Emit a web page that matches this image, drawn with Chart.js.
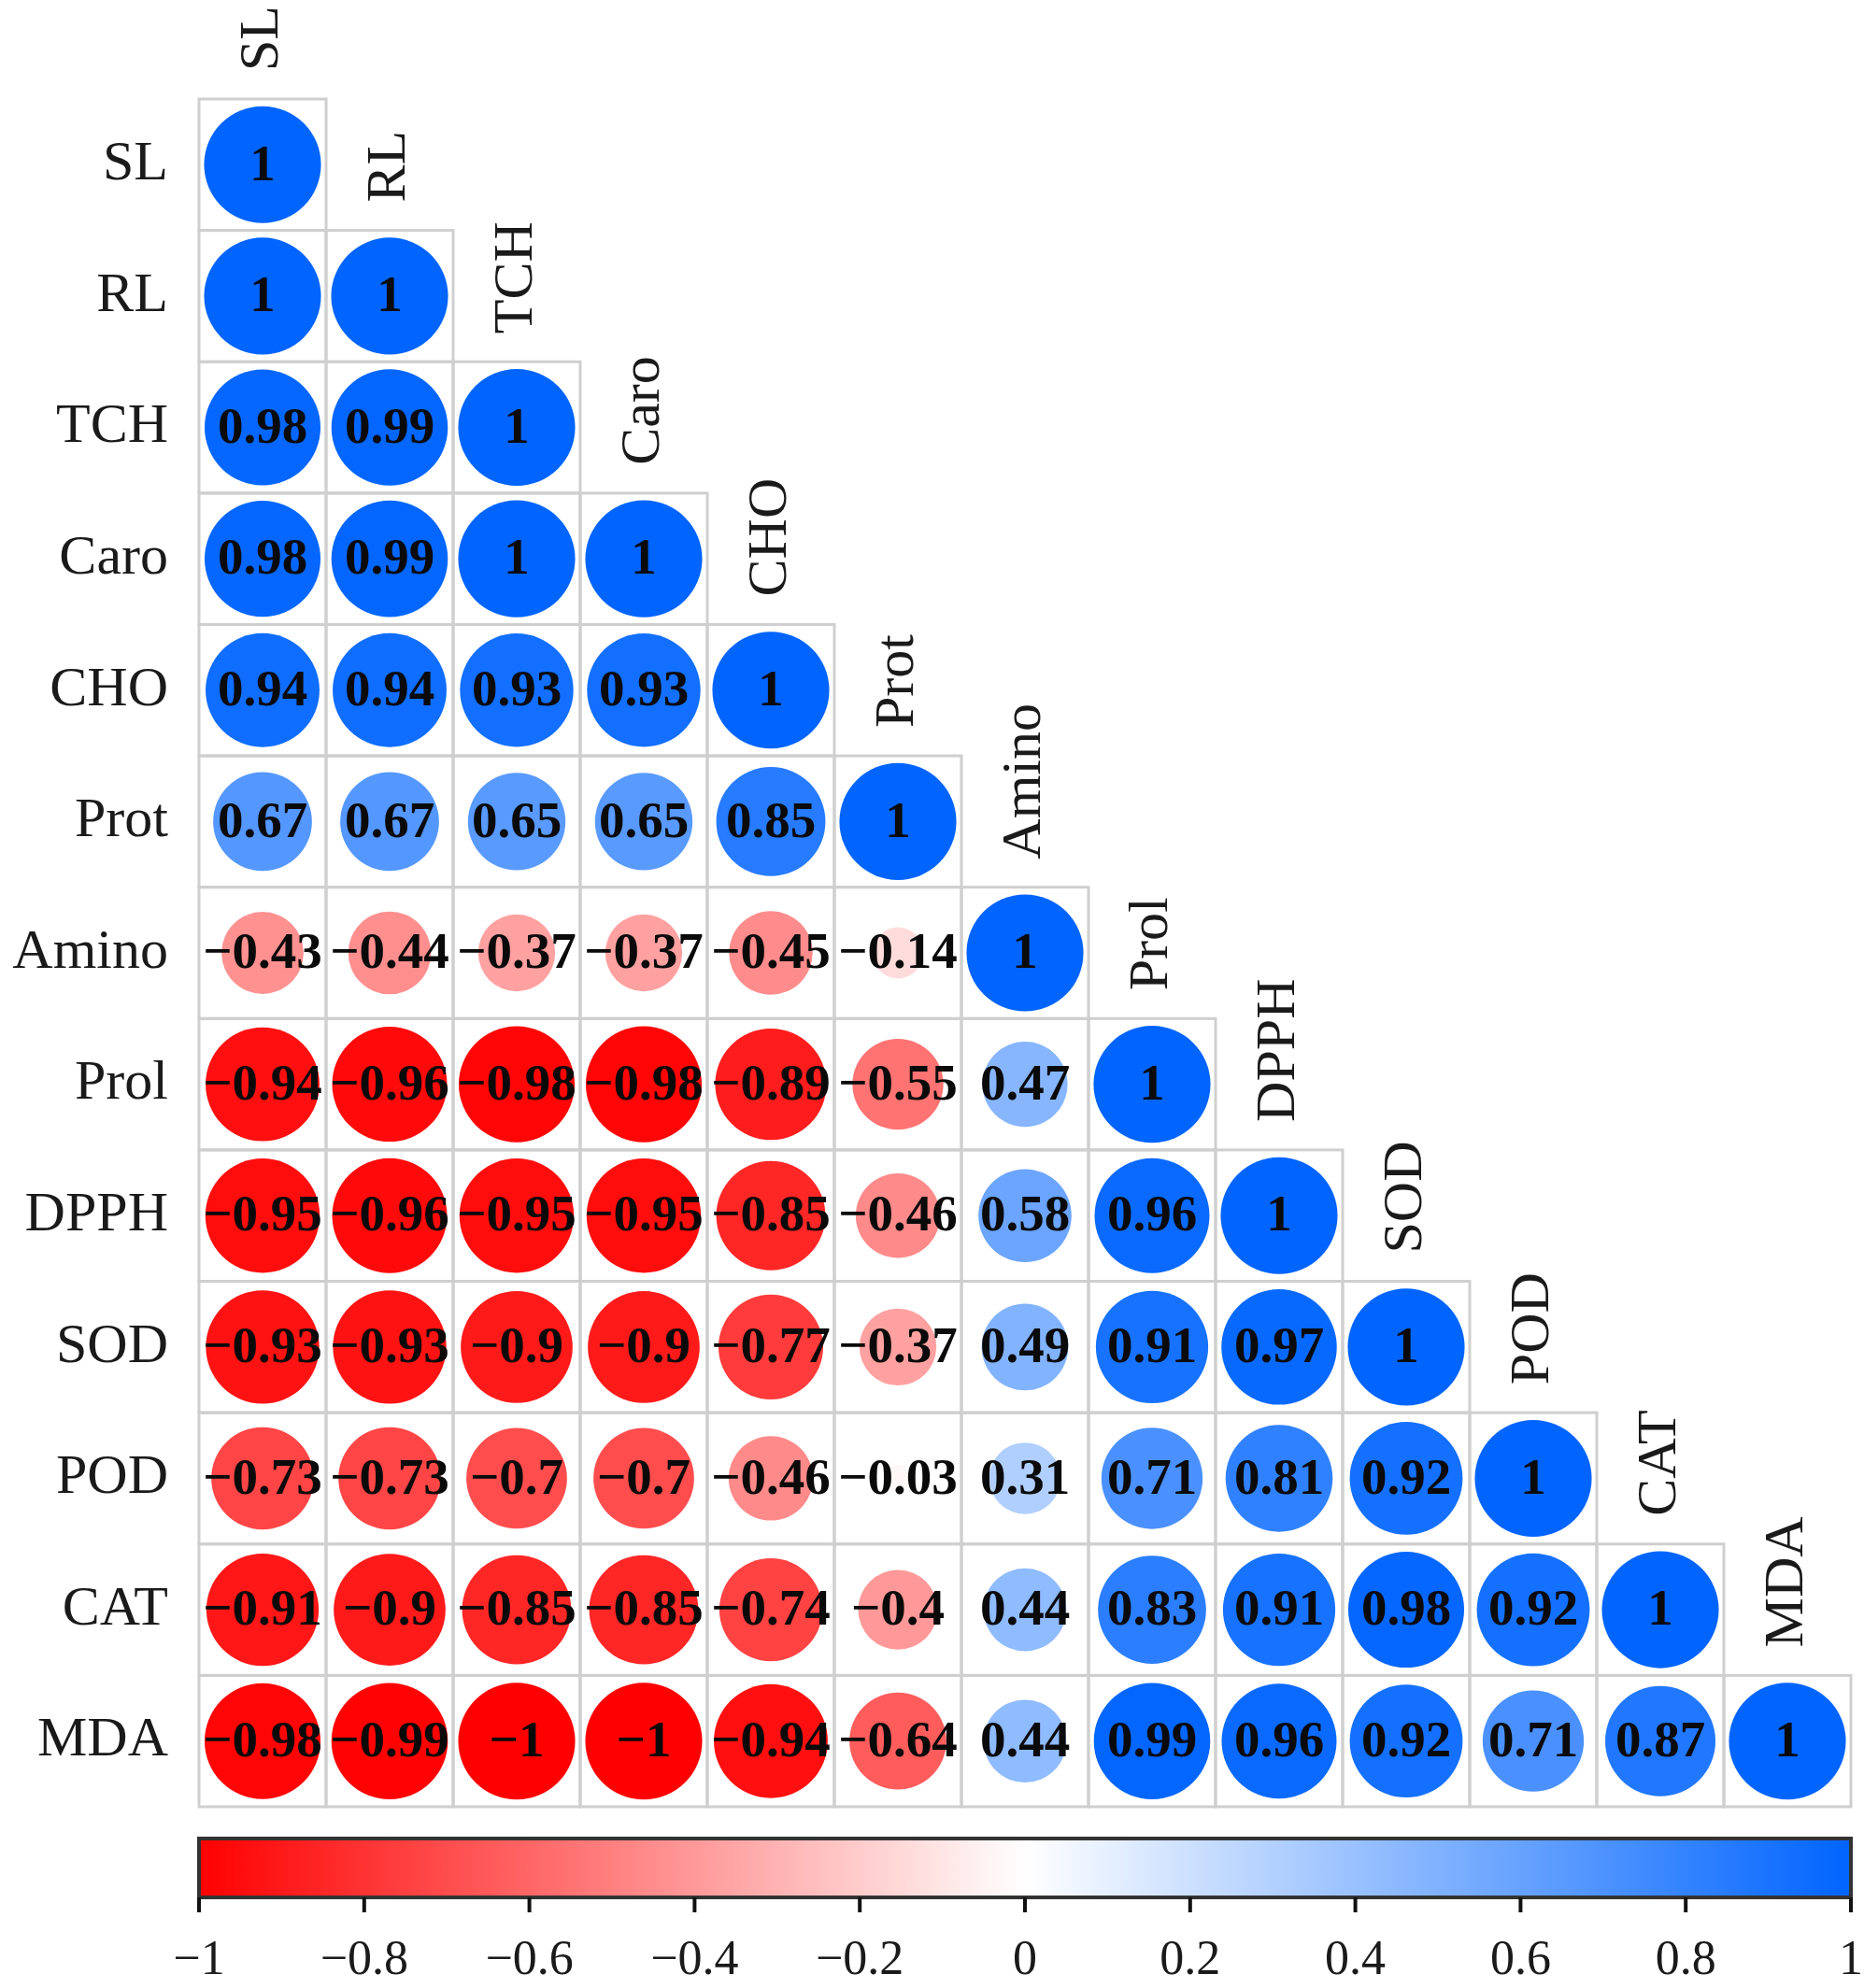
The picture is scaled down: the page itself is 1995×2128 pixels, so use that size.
<!DOCTYPE html>
<html>
<head>
<meta charset="utf-8">
<script src="https://cdn.jsdelivr.net/npm/chart.js@4.4.0/dist/chart.umd.min.js"></script>
<style>
  html, body { margin: 0; padding: 0; background: #fff; }
  #wrap { width: 1995px; height: 2128px; }
</style>
</head>
<body>
<div id="wrap"><canvas id="corrChart"></canvas></div>
<script>
const variables = ['SL', 'RL', 'TCH', 'Caro', 'CHO', 'Prot', 'Amino', 'Prol', 'DPPH', 'SOD', 'POD', 'CAT', 'MDA'];

// lower triangle of the correlation matrix, one array per row
const rowSL    = [1];
const rowRL    = [1, 1];
const rowTCH   = [0.98, 0.99, 1];
const rowCaro  = [0.98, 0.99, 1, 1];
const rowCHO   = [0.94, 0.94, 0.93, 0.93, 1];
const rowProt  = [0.67, 0.67, 0.65, 0.65, 0.85, 1];
const rowAmino = [-0.43, -0.44, -0.37, -0.37, -0.45, -0.14, 1];
const rowProl  = [-0.94, -0.96, -0.98, -0.98, -0.89, -0.55, 0.47, 1];
const rowDPPH  = [-0.95, -0.96, -0.95, -0.95, -0.85, -0.46, 0.58, 0.96, 1];
const rowSOD   = [-0.93, -0.93, -0.9, -0.9, -0.77, -0.37, 0.49, 0.91, 0.97, 1];
const rowPOD   = [-0.73, -0.73, -0.7, -0.7, -0.46, -0.03, 0.31, 0.71, 0.81, 0.92, 1];
const rowCAT   = [-0.91, -0.9, -0.85, -0.85, -0.74, -0.4, 0.44, 0.83, 0.91, 0.98, 0.92, 1];
const rowMDA   = [-0.98, -0.99, -1, -1, -0.94, -0.64, 0.44, 0.99, 0.96, 0.92, 0.71, 0.87, 1];
const corrRows = [rowSL, rowRL, rowTCH, rowCaro, rowCHO, rowProt, rowAmino, rowProl, rowDPPH, rowSOD, rowPOD, rowCAT, rowMDA];

const legendTicks = [-1, -0.8, -0.6, -0.4, -0.2, 0, 0.2, 0.4, 0.6, 0.8, 1];
const legendTickLabels = ['−1', '−0.8', '−0.6', '−0.4', '−0.2', '0', '0.2', '0.4', '0.6', '0.8', '1'];

const NEG = [255, 0, 0];
const POS = [0, 100, 255];
const SERIF = '"Liberation Serif", "DejaVu Serif", serif';

function colorFor(v) {
  const end = v < 0 ? NEG : POS;
  const t = Math.abs(v);
  const c = end.map(e => Math.round(255 + (e - 255) * t));
  return `rgb(${c[0]},${c[1]},${c[2]})`;
}

function fmt(v) {
  return String(v).replace('-', '−');
}

function bubbleSize(c) {
  const cell = c.chart.scales.x.width / variables.length;
  return cell * 0.46 * Math.pow(Math.abs(c.raw.v), 0.42);
}

const points = [];
corrRows.forEach((row, i) => {
  row.forEach((v, j) => {
    points.push({ x: variables[j], y: variables[i], v: v });
  });
});

const corrDecor = {
  id: 'corrDecor',
  beforeDatasetsDraw(chart) {
    const { ctx, chartArea: a } = chart;
    const n = variables.length;
    const cw = (a.right - a.left) / n;
    const ch = (a.bottom - a.top) / n;
    ctx.save();
    ctx.strokeStyle = '#cfcfcf';
    ctx.lineWidth = 3;
    corrRows.forEach((row, i) => {
      row.forEach((v, j) => {
        ctx.strokeRect(a.left + j * cw, a.top + i * ch, cw, ch);
      });
    });
    ctx.restore();
  },
  afterDatasetsDraw(chart) {
    const { ctx, chartArea: a } = chart;
    const n = variables.length;
    const ch = (a.bottom - a.top) / n;
    const meta = chart.getDatasetMeta(0);

    // coefficient labels
    ctx.save();
    ctx.font = 'bold 55px ' + SERIF;
    ctx.fillStyle = '#0a0a0a';
    ctx.textAlign = 'center';
    ctx.textBaseline = 'middle';
    meta.data.forEach((el, k) => {
      ctx.fillText(fmt(points[k].v), el.x, el.y + 2);
    });
    ctx.restore();

    // column labels, rotated, above the diagonal
    ctx.save();
    ctx.font = '60px ' + SERIF;
    ctx.fillStyle = '#1a1a1a';
    ctx.textAlign = 'left';
    ctx.textBaseline = 'middle';
    variables.forEach((name, j) => {
      const x = chart.scales.x.getPixelForValue(j);
      const y = a.top + j * ch - 30;
      ctx.save();
      ctx.translate(x, y);
      ctx.rotate(-Math.PI / 2);
      ctx.fillText(name, 0, 0);
      ctx.restore();
    });
    ctx.restore();

    // colour legend
    const top = a.bottom + 34;
    const h = 63;
    const grad = ctx.createLinearGradient(a.left, 0, a.right, 0);
    grad.addColorStop(0, colorFor(-1));
    grad.addColorStop(0.5, '#ffffff');
    grad.addColorStop(1, colorFor(1));
    ctx.save();
    ctx.fillStyle = grad;
    ctx.fillRect(a.left, top, a.right - a.left, h);
    ctx.strokeStyle = '#333';
    ctx.lineWidth = 4;
    ctx.strokeRect(a.left, top, a.right - a.left, h);
    ctx.strokeStyle = '#111';
    ctx.lineWidth = 4;
    ctx.font = '52px ' + SERIF;
    ctx.fillStyle = '#1a1a1a';
    ctx.textAlign = 'center';
    ctx.textBaseline = 'middle';
    legendTicks.forEach((t, k) => {
      const x = a.left + (t + 1) / 2 * (a.right - a.left);
      ctx.beginPath();
      ctx.moveTo(x, top + h);
      ctx.lineTo(x, top + h + 16);
      ctx.stroke();
      ctx.fillText(legendTickLabels[k], x, top + h + 68);
    });
    ctx.restore();
  }
};

new Chart(document.getElementById('corrChart'), {
  type: 'scatter',
  data: {
    datasets: [{
      data: points,
      backgroundColor: c => colorFor(c.raw.v),
      borderWidth: 0,
      pointRadius: bubbleSize,
      pointHoverRadius: bubbleSize
    }]
  },
  options: {
    responsive: true,
    maintainAspectRatio: false,
    animation: false,
    layout: { padding: { left: 0, top: 106, right: 14, bottom: 194 } },
    plugins: { legend: { display: false }, tooltip: { enabled: false } },
    scales: {
      x: { type: 'category', labels: variables, offset: true, display: false },
      y: {
        type: 'category',
        labels: variables,
        offset: true,
        grid: { display: false, drawTicks: false },
        border: { display: false },
        ticks: { font: { family: SERIF, size: 60 }, color: '#1a1a1a', padding: 33 },
        afterFit: s => { s.width = 213; }
      }
    }
  },
  plugins: [corrDecor]
});
</script>
</body>
</html>
